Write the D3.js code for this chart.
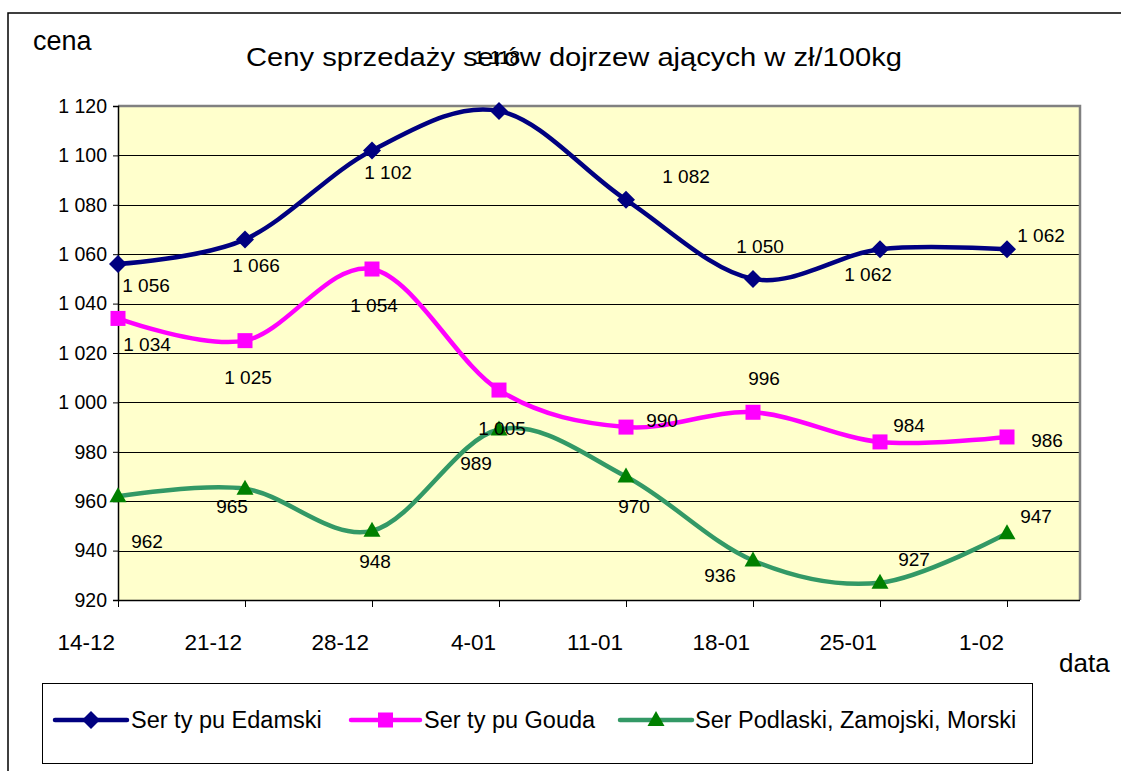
<!DOCTYPE html>
<html><head><meta charset="utf-8">
<script src="https://cdn.jsdelivr.net/npm/d3@7"></script>
<style>
body{margin:0;background:#fff}
svg{display:block}
text{font-family:"Liberation Sans",Arial,sans-serif;fill:#000}
</style>
</head><body>
<svg id="c" width="1121" height="771"></svg>
<script>
// ---- data ----
const categories = ["14-12","21-12","28-12","4-01","11-01","18-01","25-01","1-02"];
const edamski  = [1056,1066,1102,1118,1082,1050,1062,1062];
const gouda    = [1034,1025,1054,1005,990,996,984,986];
const podlaski = [962,965,948,989,970,936,927,947];
const seriesNames = ["Ser ty pu Edamski","Ser ty pu Gouda","Ser Podlaski, Zamojski, Morski"];
const yTicks = [920,940,960,980,1000,1020,1040,1060,1080,1100,1120];
const titleText = "Ceny sprzedaży serów dojrzew ających w zł/100kg";
const yTitle = "cena";
const xTitle = "data";

// ---- layout (label offsets relative to points) ----
const labelOffsets = [
  [[28,21],[11,26],[16,22],[-2,-54],[60,-24],[7,-33],[-12,25],[34,-14]],
  [[29,26],[3,37],[2,36],[3,38],[36,-7],[11,-34],[29,-17],[40,3]],
  [[29,45],[-13,17],[3,31],[-23,34],[8,30],[-33,15],[34,-23],[29,-17]]
];
const styles = [
  {line:"#000080", marker:"#000080", shape:"diamond"},
  {line:"#FF00FF", marker:"#FF00FF", shape:"square"},
  {line:"#339966", marker:"#008000", shape:"triangle"}
];
const seriesData = [edamski, gouda, podlaski];

const svg = d3.select("#c");
const locale = d3.formatLocale({decimal:",", thousands:"\u00a0", grouping:[3], currency:["","zł"]});
const fmt = locale.format(",d");

const L = 118, R = 1080, T = 106, B = 600, lastX = 1007;

// outer frame
svg.append("path").attr("d","M8,771V13H1121").attr("fill","none").attr("stroke","#000").attr("stroke-width",1.5);

const x = d3.scalePoint().domain(categories).range([L, lastX]);
const y = d3.scaleLinear().domain([920,1120]).range([B, T]);

// plot area
svg.append("rect").attr("x",L).attr("y",T).attr("width",R-L).attr("height",B-T).attr("fill","#FFFFCC");
// gridlines
svg.append("g").selectAll("line").data(yTicks.slice(1)).join("line")
  .attr("x1",L).attr("x2",R).attr("y1",d=>Math.round(y(d))+0.5).attr("y2",d=>Math.round(y(d))+0.5)
  .attr("stroke","#000").attr("stroke-width",1);
// plot border (top/right gray)
svg.append("path").attr("d",`M${L},${T}H${R}V${B}`).attr("fill","none").attr("stroke","#808080").attr("stroke-width",2.5);

// y axis
const yAxis = d3.axisLeft(y).tickValues(yTicks).tickFormat(fmt).tickSize(5).tickPadding(6);
const gy = svg.append("g").attr("transform",`translate(${L},0)`).call(yAxis);
gy.select(".domain").attr("stroke","#000").attr("stroke-width",1.5);
gy.selectAll(".tick line").attr("stroke","#000");
gy.selectAll(".tick text").attr("font-size",19.5).attr("font-family","Liberation Sans, Arial, sans-serif").attr("fill","#000");

// x axis
const xAxis = d3.axisBottom(x).tickSize(7).tickSizeOuter(0).tickFormat(()=> "");
const gx = svg.append("g").attr("transform",`translate(0,${B})`).call(xAxis);
gx.select(".domain").attr("d",`M${L},0.5H${R}`).attr("stroke","#000").attr("stroke-width",1.5);
gx.selectAll(".tick line").attr("stroke","#000");
svg.append("g").selectAll("text").data(categories).join("text")
  .attr("x",d=>x(d)-3).attr("y",650).attr("text-anchor","end").attr("font-size",22.5).text(d=>d);

// titles
svg.append("text").attr("x",574).attr("y",66).attr("text-anchor","middle").attr("font-size",25.5)
  .attr("textLength",656).attr("lengthAdjust","spacingAndGlyphs").text(titleText);
svg.append("text").attr("x",33).attr("y",50).attr("font-size",27).text(yTitle);
svg.append("text").attr("x",1059).attr("y",672).attr("font-size",26).text(xTitle);

// lines
const line = d3.line().x((d,i)=>x(categories[i])).y(d=>y(d)).curve(d3.curveCardinal.tension(0));
function marker(g, shape, color, cx, cy){
  if(shape==="diamond") g.append("path").attr("d",`M${cx},${cy-9}L${cx+9},${cy}L${cx},${cy+9}L${cx-9},${cy}Z`).attr("fill",color);
  else if(shape==="square") g.append("rect").attr("x",cx-7.5).attr("y",cy-7.5).attr("width",15).attr("height",15).attr("fill",color);
  else g.append("path").attr("d",`M${cx},${cy-9}L${cx+8.5},${cy+6}L${cx-8.5},${cy+6}Z`).attr("fill",color);
}
seriesData.forEach((vals,si)=>{
  const st = styles[si];
  svg.append("path").datum(vals).attr("d",line).attr("fill","none").attr("stroke",st.line).attr("stroke-width",4.5).attr("stroke-linejoin","round");
  const g = svg.append("g");
  vals.forEach((v,i)=>marker(g, st.shape, st.marker, x(categories[i]), y(v)));
});
// data labels
seriesData.forEach((vals,si)=>{
  svg.append("g").selectAll("text").data(vals).join("text")
    .attr("x",(d,i)=>x(categories[i])+labelOffsets[si][i][0])
    .attr("y",(d,i)=>y(d)+labelOffsets[si][i][1])
    .attr("dy","0.35em").attr("text-anchor","middle").attr("font-size",19).text(d=>fmt(d));
});

// legend
svg.append("rect").attr("x",42.5).attr("y",683.5).attr("width",990).attr("height",80).attr("fill","#fff").attr("stroke","#000").attr("stroke-width",1);
const legX = [[55,127,131],[351,420,424],[620,692,695]];
seriesNames.forEach((n,si)=>{
  const [a,b,t] = legX[si], st = styles[si], ly = 720;
  svg.append("line").attr("x1",a).attr("x2",b).attr("y1",ly).attr("y2",ly).attr("stroke",st.line).attr("stroke-width",4.5).attr("stroke-linecap","round");
  const g = svg.append("g");
  marker(g, st.shape, st.marker, (a+b)/2, ly);
  svg.append("text").attr("x",t).attr("y",ly).attr("dy","0.35em").attr("font-size",23.5).text(n);
});
</script>
</body></html>
